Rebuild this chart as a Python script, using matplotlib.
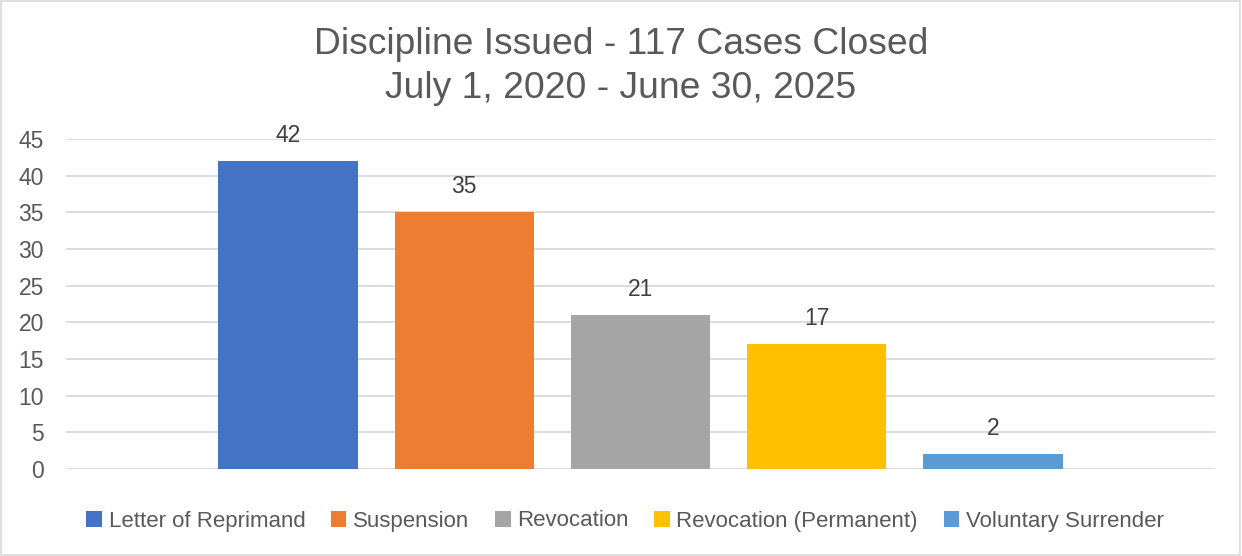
import numpy as np
import matplotlib.pyplot as plt
from matplotlib.patches import Rectangle

categories = ['Letter of Reprimand', 'Suspension', 'Revocation',
              'Revocation (Permanent)', 'Voluntary Surrender']
counts = [42, 35, 21, 17, 2]
colors = ['#4472C4', '#ED7D31', '#A5A5A5', '#FFC000', '#5B9BD5']
yticks = [0, 5, 10, 15, 20, 25, 30, 35, 40, 45]

plt.rcParams['font.family'] = ['Liberation Sans', 'DejaVu Sans']
txt = '#595959'

fig = plt.figure(figsize=(12.42, 5.56), dpi=100)
ax = fig.add_axes([66/1242, 1-469/556, (1215-66)/1242, (469-139)/556])

step = 0.1534
width = 0.121
for i, (name, v, c) in enumerate(zip(categories, counts, colors)):
    x = (i - 2) * step
    ax.bar(x, v, width=width, color=c, label=name, zorder=2)
    ax.annotate(str(v), (x, v), xytext=(0, 10), textcoords='offset points',
                ha='center', va='bottom', fontsize=16.5, color='#404040')

ax.set_xlim(-0.5, 0.5)
ax.set_ylim(0, 45)
ax.set_yticks(yticks)
ax.set_xticks([])
ax.yaxis.grid(True, color='#D9D9D9', linewidth=1.3, zorder=0)
ax.tick_params(axis='y', length=0, pad=16, labelsize=16.5, labelcolor=txt)
for s in ax.spines.values():
    s.set_visible(False)

fig.text(0.5, 1-44/556, 'Discipline Issued - 117 Cases Closed', ha='center', va='center',
         fontsize=26.8, color=txt)
fig.text(0.5, 1-88/556, 'July 1, 2020 - June 30, 2025', ha='center', va='center',
         fontsize=26.8, color=txt)

leg = fig.legend(loc='center', bbox_to_anchor=(625/1242, 1-521/556), ncol=5,
                 frameon=False, fontsize=16, handlelength=0.7, handleheight=0.7,
                 handletextpad=0.3, columnspacing=1.15, labelcolor=txt)

fig.patches.append(Rectangle((0.001, 0.001), 0.997, 0.997, transform=fig.transFigure,
                             fill=False, edgecolor='#D9D9D9', linewidth=1.2))

fig.savefig('out.png', dpi=100)
